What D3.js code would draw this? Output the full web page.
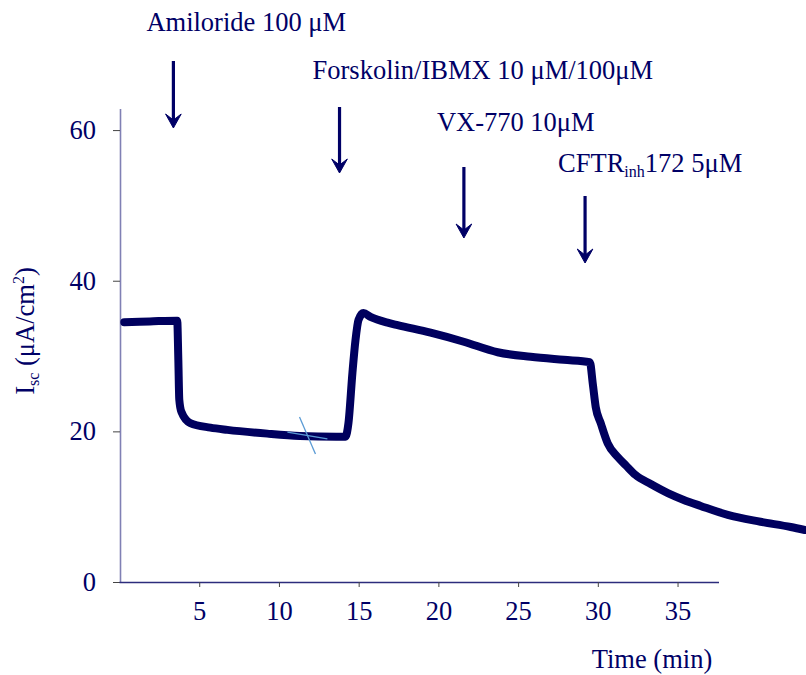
<!DOCTYPE html>
<html>
<head>
<meta charset="utf-8">
<script src="https://cdn.jsdelivr.net/npm/d3@7"></script>
<style>
  html, body { margin: 0; padding: 0; background: #ffffff; }
  svg { display: block; }
  text { font-family: "Liberation Serif", "Times New Roman", serif; fill: #000066; }
</style>
</head>
<body>
<svg id="chart" width="806" height="675"></svg>
<script>
// ---- data ----
const timeMin = [0.3, 1.9, 3.62, 3.69, 3.75, 3.88, 4.44, 5.70, 6.77, 9.27, 11.3, 13.6, 14.17, 14.36, 14.61, 14.80, 14.99, 15.30, 15.74, 16.87, 17.44, 19.51, 21.59, 23.72, 25.79, 27.86, 29.50, 29.68, 29.87, 30.18, 30.62, 31.25, 31.75, 32.37, 33.32, 34.39, 35.39, 36.45, 38.15, 40.2, 42.1, 42.98];
const iscValues = [34.5, 34.6, 34.7, 29.5, 24.2, 22.6, 21.1, 20.5, 20.2, 19.7, 19.4, 19.3, 19.3, 21.1, 27.8, 32.1, 34.8, 35.7, 35.2, 34.4, 34.1, 33.1, 31.9, 30.5, 29.9, 29.5, 29.2, 26.4, 23.2, 21.1, 18.4, 16.6, 15.5, 14.2, 13.0, 11.8, 10.9, 10.1, 8.9, 8.0, 7.3, 6.9];

const xTicks = [5, 10, 15, 20, 25, 30, 35];
const yTicks = [0, 20, 40, 60];

const eventTimes = [3.38, 13.8, 21.6, 29.2];
const eventLabels = [
  [{t: "Amiloride 100 μM"}],
  [{t: "Forskolin/IBMX 10 μM/100μM"}],
  [{t: "VX-770 10μM"}],
  [{t: "CFTR"}, {t: "inh", sub: true}, {t: "172 5μM"}]
];
// small cross mark on the trace (data coordinates)
const markSeg1 = [[11.29, 21.9], [12.29, 17.0]];
const markSeg2 = [[10.53, 19.9], [13.04, 19.0]];

// ---- layout ----
const labelBaselines = [31, 79, 131, 172];
const arrowTops = [61, 107, 167, 196];
const arrowTips = [128, 173, 238, 263];
const FS = 26.5, FSS = 16;

const svg = d3.select("#chart");
const x = d3.scaleLinear().domain([0, 37.6]).range([119.5, 719]);
const y = d3.scaleLinear().domain([0, 62.8]).range([582, 109]);

// Y axis
const yAxis = svg.append("g").attr("transform", "translate(120,0)")
  .call(d3.axisLeft(y).tickValues(yTicks).tickSize(7).tickPadding(17).tickFormat(d3.format("d")));
yAxis.select(".domain").attr("stroke", "#8080b4").attr("stroke-width", 1.6).attr("d", "M0.5," + y(62.8) + "V" + y(0));
yAxis.selectAll(".tick line").attr("stroke", "#444").attr("stroke-width", 1);
yAxis.selectAll(".tick text").attr("font-size", FS).style("font-family", "Liberation Serif").attr("fill", "#000066");

// X axis
const xAxis = svg.append("g").attr("transform", "translate(0,582)")
  .call(d3.axisBottom(x).tickValues(xTicks).tickSize(5).tickPadding(14));
xAxis.select(".domain").attr("stroke", "#2c2c7c").attr("stroke-width", 1.6).attr("d", "M" + x(0) + ",0.5H" + x(37.6));
xAxis.selectAll(".tick line").attr("stroke", "#444").attr("stroke-width", 1);
xAxis.selectAll(".tick text").attr("font-size", FS).style("font-family", "Liberation Serif").attr("fill", "#000066");

// Axis titles
const yt = svg.append("text")
  .attr("transform", "translate(34,331) rotate(-90)")
  .attr("text-anchor", "middle")
  .attr("font-size", FS);
yt.append("tspan").text("I");
yt.append("tspan").attr("font-size", FSS).attr("dy", 5).text("sc");
yt.append("tspan").attr("dy", -5).text(" (μA/cm");
yt.append("tspan").attr("font-size", FSS).attr("dy", -10).text("2");
yt.append("tspan").attr("dy", 10).text(")");

svg.append("text").attr("x", 652).attr("y", 668).attr("text-anchor", "middle")
  .attr("font-size", FS).text("Time (min)");

// Trace
const pts = timeMin.map((t, i) => [t, iscValues[i]]);
svg.append("path")
  .datum(pts)
  .attr("fill", "none")
  .attr("stroke", "#00005e")
  .attr("stroke-width", 8)
  .attr("stroke-linejoin", "round")
  .attr("stroke-linecap", "round")
  .attr("d", d3.line().x(d => x(d[0])).y(d => y(d[1])).curve(d3.curveMonotoneX));

// Cross mark
[markSeg1, markSeg2].forEach(seg => {
  svg.append("line")
    .attr("x1", x(seg[0][0])).attr("y1", y(seg[0][1]))
    .attr("x2", x(seg[1][0])).attr("y2", y(seg[1][1]))
    .attr("stroke", "#5b9bd5").attr("stroke-width", 1.3);
});

// Event arrows and labels
eventTimes.forEach((t, i) => {
  const ax = x(t);
  const top = arrowTops[i], tip = arrowTips[i];
  svg.append("line").attr("x1", ax).attr("x2", ax).attr("y1", top).attr("y2", tip - 4)
    .attr("stroke", "#000066").attr("stroke-width", 3.2);
  svg.append("path")
    .attr("d", `M${ax},${tip} L${ax - 7.8},${tip - 14} L${ax},${tip - 8} L${ax + 7.8},${tip - 14} Z`)
    .attr("fill", "#000066").attr("stroke", "#000066").attr("stroke-width", 1).attr("stroke-linejoin", "round");
  const tx = svg.append("text").attr("x", ax - 27).attr("y", labelBaselines[i]).attr("font-size", FS);
  eventLabels[i].forEach((seg, j) => {
    const ts = tx.append("tspan").text(seg.t);
    if (seg.sub) ts.attr("font-size", FSS).attr("dy", 5);
    else if (j > 0 && eventLabels[i][j - 1].sub) ts.attr("dy", -5);
  });
});
</script>
</body>
</html>
